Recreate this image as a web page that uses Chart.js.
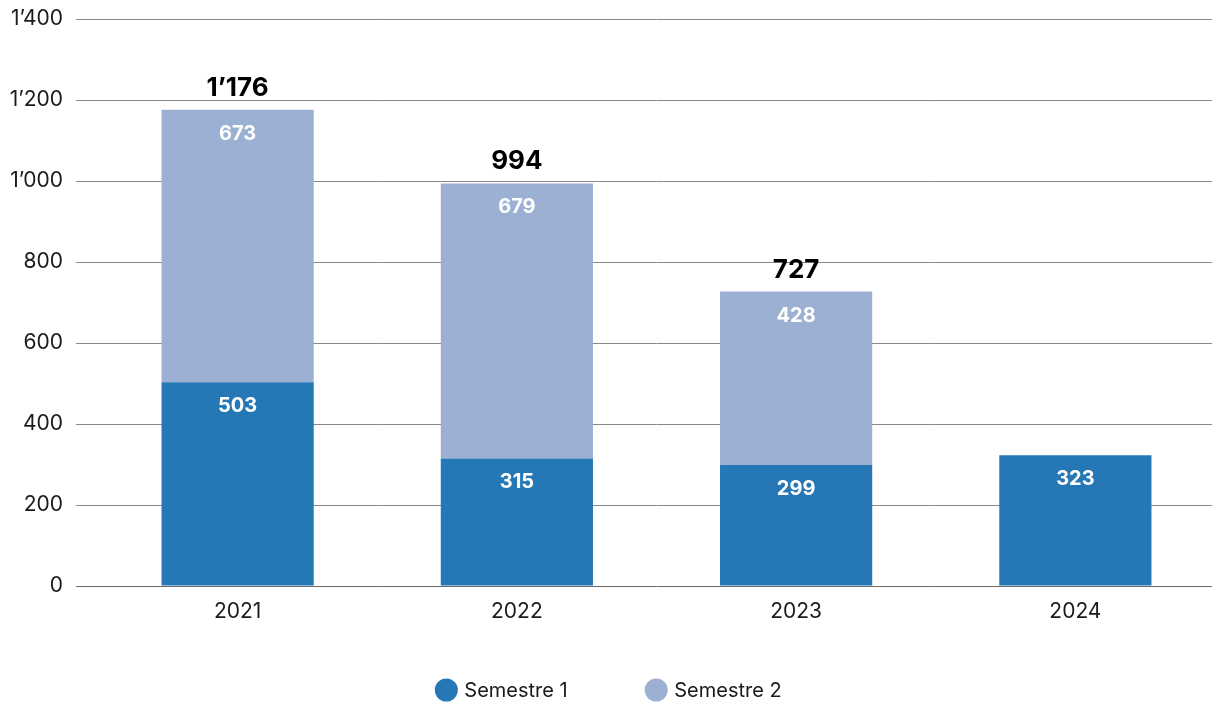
<!DOCTYPE html>
<html>
<head>
<meta charset="utf-8">
<script src="https://cdn.jsdelivr.net/npm/chart.js@4/dist/chart.umd.min.js"></script>
<style>
  html, body { margin: 0; padding: 0; background: #fff; overflow: hidden; }
  #wrap { position: relative; width: 1215px; height: 702px; }
</style>
</head>
<body>
<div id="wrap"><canvas id="c"></canvas></div>
<script>
// Half-year figures per year
const years = ['2021', '2022', '2023', '2024'];
const semestre1 = [503, 315, 299, 323];
const semestre2 = [673, 679, 428, null];
const seriesNames = ['Semestre 1', 'Semestre 2'];
const seriesColors = ['#2577b5', '#9bb0d3'];
const yMin = 0, yMax = 1400, yStep = 200;

const FONT = "Inter, 'DejaVu Sans', sans-serif";

// Swiss-style thousands separator
function fmt(n) {
  return String(n).replace(/\B(?=(\d{3})+(?!\d))/g, '\u2019');
}

// Segment values inside each bar, and year totals above stacked bars
const valueLabels = {
  id: 'valueLabels',
  afterDatasetsDraw(chart) {
    const ctx = chart.ctx;
    ctx.save();
    ctx.textAlign = 'center';
    ctx.textBaseline = 'alphabetic';
    chart.data.datasets.forEach((ds, di) => {
      const meta = chart.getDatasetMeta(di);
      meta.data.forEach((bar, i) => {
        const v = ds.data[i];
        if (v == null) return;
        ctx.font = 'bold 20px ' + FONT;
        ctx.fillStyle = '#ffffff';
        ctx.fillText(fmt(v), bar.x, bar.y + 30);
      });
    });
    const topMeta = chart.getDatasetMeta(1);
    years.forEach((yr, i) => {
      if (semestre2[i] == null) return;
      const bar = topMeta.data[i];
      ctx.font = 'bold 26px ' + FONT;
      ctx.fillStyle = '#000000';
      ctx.fillText(fmt(semestre1[i] + semestre2[i]), bar.x, bar.y - 14);
    });
    ctx.restore();
  }
};

// Centered legend row with round markers
const bottomLegend = {
  id: 'bottomLegend',
  afterDraw(chart) {
    const ctx = chart.ctx;
    const r = 11.5, textGap = 18, itemGap = 77, cy = 690, cx = 614;
    ctx.save();
    ctx.font = '20px ' + FONT;
    const items = chart.data.datasets.map(ds => ({
      text: ds.label, color: ds.backgroundColor, w: ctx.measureText(ds.label).width
    }));
    const total = items.reduce((a, it) => a + r + textGap + it.w, 0) + itemGap * (items.length - 1) + r;
    let x = cx - total / 2;
    items.forEach(it => {
      ctx.beginPath();
      ctx.arc(x + r, cy, r, 0, Math.PI * 2);
      ctx.fillStyle = it.color;
      ctx.fill();
      ctx.fillStyle = '#1a1a1a';
      ctx.textAlign = 'left';
      ctx.textBaseline = 'middle';
      ctx.fillText(it.text, x + r + textGap, cy + 1);
      x += r + textGap + it.w + itemGap;
    });
    ctx.restore();
  }
};

new Chart(document.getElementById('c'), {
  type: 'bar',
  data: {
    labels: years,
    datasets: [
      { label: seriesNames[0], data: semestre1, backgroundColor: seriesColors[0] },
      { label: seriesNames[1], data: semestre2, backgroundColor: seriesColors[1] }
    ]
  },
  options: {
    responsive: true,
    maintainAspectRatio: false,
    animation: false,
    layout: { padding: { top: 19, right: 0, bottom: 76, left: 0 } },
    datasets: { bar: { categoryPercentage: 1, barPercentage: 0.545, borderWidth: 0 } },
    plugins: { legend: { display: false }, tooltip: { enabled: false } },
    scales: {
      x: {
        stacked: true,
        grid: { display: false, drawTicks: false },
        border: { display: false },
        ticks: { color: '#1a1a1a', font: { family: FONT, size: 21 }, padding: 13 },
        afterFit(scale) { scale.height = 40; scale.paddingLeft = 0; scale.paddingRight = 0; }
      },
      y: {
        stacked: true,
        min: yMin,
        max: yMax,
        border: { display: false },
        grid: {
          color: ctx => (ctx.tick && ctx.tick.value === 0) ? '#6a6a6a' : '#888888',
          lineWidth: 1,
          drawTicks: true,
          tickLength: 22
        },
        ticks: {
          stepSize: yStep,
          color: '#1a1a1a',
          font: { family: FONT, size: 21 },
          padding: 13,
          callback: v => fmt(v)
        },
        afterFit(scale) { scale.width = 98; scale.paddingTop = 0; scale.paddingBottom = 0; }
      }
    }
  },
  plugins: [valueLabels, bottomLegend]
});
</script>
</body>
</html>
